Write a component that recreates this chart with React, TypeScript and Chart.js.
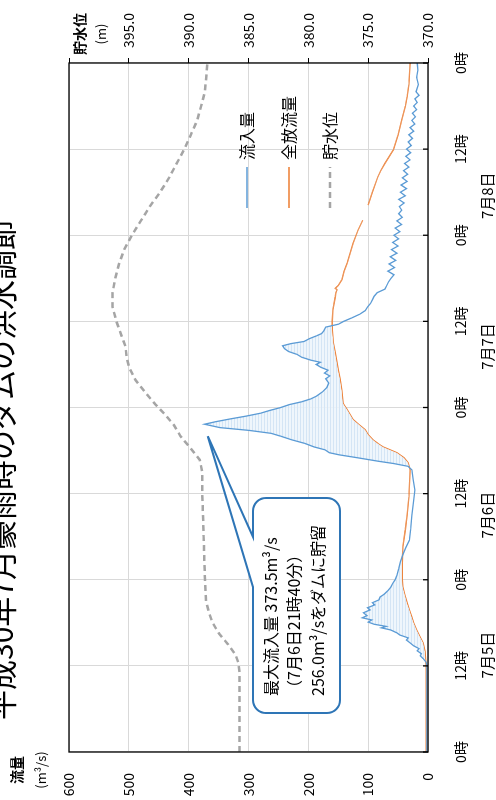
import React, { useEffect, useRef } from 'react';
import { Chart, registerables } from 'chart.js';

Chart.register(...registerables);

const FONT = '"Noto Sans CJK JP", "Noto Sans", sans-serif';

const titleText = '平成30年7月豪雨時のダムの洪水調節';
const flowAxisTitle = ['流量', '(m³/s)'];
const levelAxisTitle = ['貯水位', '(m)'];
const hourTicks = [0, 12, 24, 36, 48, 60, 72, 84, 96];
const hourTickLabels = ['0時', '12時', '0時', '12時', '0時', '12時', '0時', '12時', '0時'];
const dateLabels = ['7月5日', '7月6日', '7月7日', '7月8日'];
const dateLabelHours = [13.5, 33, 56.5, 77.5];
const seriesNames = ['流入量', '全放流量', '貯水位'];
const noteLines = ['最大流入量 373.5m³/s', '（7月6日21時40分）', '256.0m³/sをダムに貯留'];
const notePointHour = 44.0;
const notePointFlow = 368;

const inflowHours = [0, 6, 12, 12.5, 13, 13.4, 13.7, 14.1, 14.4, 14.8, 15.2, 15.6, 15.9, 16.3, 16.6, 17, 17.3, 17.5, 17.8, 18.1, 18.4, 18.7, 19, 19.4, 19.8, 20.1, 20.5, 20.8, 21.2, 21.6, 22, 22.5, 23, 23.5, 24, 24.6, 25.5, 26.5, 27.5, 28.5, 29.5, 31, 33, 35, 36.5, 38, 39.3, 39.8, 40.2, 40.5, 41, 41.4, 41.7, 42.1, 42.5, 43, 43.5, 44, 44.4, 44.8, 45.2, 45.67, 46, 46.4, 46.8, 47.2, 47.6, 48, 48.4, 48.8, 49.2, 49.6, 50.2, 50.8, 51.4, 52, 52.4, 52.8, 53.2, 53.6, 54, 54.3, 54.6, 55, 55.4, 55.8, 56.2, 56.6, 56.9, 57.2, 57.6, 58, 58.3, 58.7, 59.2, 59.6, 60, 60.5, 61, 61.5, 62, 62.5, 63, 63.5, 64, 64.5, 65, 65.5, 66, 66.5, 67, 67.5, 68, 68.5, 69, 69.5, 70, 70.5, 71, 71.5, 72, 72.5, 73, 73.5, 74, 74.5, 75, 75.5, 76, 76.5, 77, 77.5, 78, 78.5, 79, 79.5, 80, 80.5, 81, 81.5, 82, 82.5, 83, 83.5, 84, 84.5, 85, 85.5, 86, 86.5, 87, 87.5, 88, 88.5, 89, 89.5, 90, 90.5, 91, 91.5, 92, 93, 94, 95, 96];
const inflowValues = [2, 2, 2, 3, 8, 13, 11, 18, 15, 24, 30, 36, 33, 47, 52, 62, 78, 70, 90, 100, 94, 110, 102, 108, 97, 101, 89, 93, 82, 80, 73, 67, 62, 59, 55, 52, 49, 46, 42, 37, 31, 29, 27, 24, 22, 25, 27, 33, 58, 82, 118, 148, 165, 172, 190, 206, 228, 246, 262, 298, 348, 373.5, 356, 331, 304, 280, 264, 246, 232, 211, 196, 186, 176, 169, 166, 171, 164, 173, 167, 179, 187, 180, 196, 211, 219, 233, 240, 243, 229, 207, 198, 186, 178, 174, 171, 150, 141, 127, 114, 105, 101, 96, 93, 90, 85, 72, 69, 66, 62, 57, 67, 56, 65, 54, 63, 52, 61, 50, 59, 49, 57, 47, 55, 44, 52, 43, 49, 44, 48, 40, 49, 38, 46, 36, 45, 35, 43, 34, 41, 32, 39, 30, 37, 29, 36, 28, 33, 26, 32, 24, 30, 22, 27, 21, 26, 19, 24, 18, 22, 15, 20, 16, 19, 17, 18];

const outflowHours = [0, 12, 13, 14, 15.2, 16, 17, 18, 18.8, 19.8, 20.8, 22, 23, 24, 26.3, 28.6, 30.9, 33, 35.5, 37, 39.3, 40.3, 41, 41.7, 42.5, 43, 43.5, 44.2, 44.9, 45.6, 46.3, 47, 47.7, 48.6, 50.4, 52, 53.2, 55.6, 57, 58.8, 60, 61.6, 63.4, 64, 64.4, 64.6, 65, 65.8, 67, 68.1, 69.5, 70.9, 72.7, 74.1, 74.6, 76.2, 78, 80.1, 81, 82, 83.9, 86, 88, 90, 91.3, 93, 96];
const outflowValues = [3, 3, 4, 5, 8, 13, 19, 24, 27, 31, 35, 39, 42, 43, 43, 42, 38, 35, 32, 31, 30, 33, 40, 52, 75, 84, 92, 100, 105, 115, 125, 130, 135, 142, 144, 147, 150, 155, 158, 160, 160, 159, 155, 154, 152, 155, 150, 144, 140, 135, 130, 125, 117, 109, null, 100, 93, 84, 79, 72, 58, 50, 44, 38, 35, 32, 30];

const levelHours = [0, 11, 12.5, 13.5, 15, 16.5, 18, 19.5, 21, 24, 30, 36, 39, 40.7, 42.5, 44, 45.5, 47, 48.5, 50, 51.8, 53.5, 55, 56.5, 58, 60, 62, 64, 66, 68, 70, 72, 74, 76, 78, 80, 82, 84, 86, 88, 90, 92, 94, 96];
const levelValues = [385.75, 385.75, 385.86, 386.07, 386.71, 387.46, 388.0, 388.32, 388.54, 388.64, 388.75, 388.86, 388.86, 389.07, 389.93, 390.68, 391.21, 391.96, 392.82, 393.57, 394.43, 394.96, 395.18, 395.28, 395.61, 396.04, 396.36, 396.36, 396.14, 395.82, 395.39, 394.75, 394.0, 393.25, 392.39, 391.64, 391.0, 390.36, 389.82, 389.29, 388.96, 388.64, 388.54, 388.43];

const BLUE = '#5b9bd5';
const ORANGE = '#ed7d31';
const GRAY = '#a5a5a5';
const GRID = '#d9d9d9';
const NOTE_BLUE = '#2e75b6';

const toPoints = (xs: number[], ys: (number | null)[]) => xs.map((x, i) => ({ x, y: ys[i] }));

function makeFillPattern(): CanvasPattern | string {
  const c = document.createElement('canvas');
  c.width = 4;
  c.height = 3;
  const g = c.getContext('2d');
  if (!g) return 'rgba(214,230,245,0.5)';
  g.fillStyle = 'rgba(236,244,251,0.85)';
  g.fillRect(0, 0, 4, 3);
  g.fillStyle = 'rgba(208,227,245,0.85)';
  g.fillRect(0, 0, 4, 1);
  const p = g.createPattern(c, 'repeat');
  return p || 'rgba(214,230,245,0.5)';
}

const decorPlugin = {
  id: 'decor',
  afterDatasetsDraw(chart: any) {
    const { ctx, chartArea: a, scales } = chart;
    ctx.save();
    ctx.strokeStyle = '#000';
    ctx.lineWidth = 1.3;
    ctx.strokeRect(a.left, a.top, a.right - a.left, a.bottom - a.top);
    hourTicks.forEach((h) => {
      const px = scales.x.getPixelForValue(h);
      ctx.beginPath();
      ctx.moveTo(px, a.bottom);
      ctx.lineTo(px, a.bottom - 5);
      ctx.stroke();
    });
    ctx.restore();
  },
  afterDraw(chart: any) {
    const { ctx, scales } = chart;
    ctx.save();
    ctx.fillStyle = '#000';
    ctx.textBaseline = 'middle';
    // date labels
    ctx.font = `15px ${FONT}`;
    ctx.textAlign = 'center';
    dateLabels.forEach((d, i) => {
      ctx.fillText(d, scales.x.getPixelForValue(dateLabelHours[i]), 487);
    });
    // axis titles
    ctx.font = `bold 14px ${FONT}`;
    ctx.fillText(flowAxisTitle[0], 30, 17);
    ctx.fillText(levelAxisTitle[0], 766, 80);
    ctx.font = `13px ${FONT}`;
    ctx.fillText(flowAxisTitle[1], 30, 41);
    ctx.fillText(levelAxisTitle[1], 766, 101);
    // legend
    const rowsY = [247, 289, 330];
    const colors = [BLUE, ORANGE, GRAY];
    ctx.textAlign = 'left';
    ctx.font = `16px ${FONT}`;
    seriesNames.forEach((n, i) => {
      ctx.save();
      ctx.strokeStyle = colors[i];
      ctx.lineWidth = i === 2 ? 2.5 : 1.5;
      if (i === 2) ctx.setLineDash([6, 4]);
      ctx.beginPath();
      ctx.moveTo(592, rowsY[i]);
      ctx.lineTo(633, rowsY[i]);
      ctx.stroke();
      ctx.restore();
      ctx.fillText(n, 640, rowsY[i]);
    });
    // annotation callout
    const bx0 = 87, bx1 = 302, by0 = 253, by1 = 340, r = 13;
    const t0 = 213, t1 = 263;
    const tipX = scales.x.getPixelForValue(notePointHour);
    const tipY = scales.y.getPixelForValue(notePointFlow);
    ctx.beginPath();
    ctx.moveTo(bx0 + r, by0);
    ctx.lineTo(t0, by0);
    ctx.lineTo(tipX, tipY);
    ctx.lineTo(t1, by0);
    ctx.lineTo(bx1 - r, by0);
    ctx.arcTo(bx1, by0, bx1, by0 + r, r);
    ctx.lineTo(bx1, by1 - r);
    ctx.arcTo(bx1, by1, bx1 - r, by1, r);
    ctx.lineTo(bx0 + r, by1);
    ctx.arcTo(bx0, by1, bx0, by1 - r, r);
    ctx.lineTo(bx0, by0 + r);
    ctx.arcTo(bx0, by0, bx0 + r, by0, r);
    ctx.closePath();
    ctx.fillStyle = '#fff';
    ctx.fill();
    ctx.strokeStyle = NOTE_BLUE;
    ctx.lineWidth = 2;
    ctx.stroke();
    ctx.fillStyle = '#000';
    ctx.font = `16px ${FONT}`;
    const lineY = [271, 294, 318];
    noteLines.forEach((t, i) => ctx.fillText(t, 104, lineY[i]));
    ctx.restore();
  },
};

export default function App() {
  const ref = useRef<HTMLCanvasElement>(null);
  useEffect(() => {
    document.body.style.margin = '0';
    Chart.defaults.font.family = FONT;
    const chart = new Chart(ref.current as HTMLCanvasElement, {
      type: 'line',
      data: {
        datasets: [
          {
            label: seriesNames[0],
            data: toPoints(inflowHours, inflowValues),
            borderColor: BLUE,
            borderWidth: 1.3,
            pointRadius: 0,
            yAxisID: 'y',
            fill: { target: 1, above: makeFillPattern(), below: 'rgba(0,0,0,0)' },
          },
          {
            label: seriesNames[1],
            data: toPoints(outflowHours, outflowValues),
            borderColor: ORANGE,
            borderWidth: 1.3,
            pointRadius: 0,
            spanGaps: false,
            yAxisID: 'y',
            fill: false,
          },
          {
            label: seriesNames[2],
            data: toPoints(levelHours, levelValues),
            borderColor: GRAY,
            borderWidth: 2.5,
            borderDash: [6, 4],
            pointRadius: 0,
            yAxisID: 'y2',
            fill: false,
          },
        ],
      } as any,
      options: {
        responsive: false,
        animation: false,
        events: [],
        layout: { padding: { top: 69, left: 0, right: 0, bottom: 0 } },
        plugins: { legend: { display: false }, tooltip: { enabled: false }, title: { display: false } },
        scales: {
          x: {
            type: 'linear',
            min: 0,
            max: 96,
            afterFit: (s: any) => { s.height = 68; },
            afterBuildTicks: (s: any) => { s.ticks = hourTicks.map((v) => ({ value: v })); },
            ticks: {
              stepSize: 12,
              autoSkip: false,
              maxRotation: 0,
              padding: 24,
              color: '#000',
              font: { size: 14 },
              callback: (v: any) => hourTickLabels[hourTicks.indexOf(Number(v))] ?? '',
            },
            grid: { color: GRID, drawTicks: false },
            border: { display: false },
          },
          y: {
            position: 'left',
            min: 0,
            max: 600,
            afterFit: (s: any) => { s.width = 48; },
            ticks: { stepSize: 100, padding: 21, color: '#000', font: { size: 14 } },
            grid: { color: GRID, drawTicks: false },
            border: { display: false },
          },
          y2: {
            position: 'right',
            min: 370,
            max: 400,
            afterFit: (s: any) => { s.width = 63; },
            ticks: {
              stepSize: 5,
              padding: 10,
              color: '#000',
              font: { size: 14 },
              callback: (v: any) => (Number(v) >= 400 ? '' : Number(v).toFixed(1)),
            },
            grid: { drawOnChartArea: false, drawTicks: true, tickLength: 5, color: '#000' },
            border: { display: false },
          },
        },
      } as any,
      plugins: [decorPlugin],
    });
    return () => chart.destroy();
  }, []);

  return (
    <div style={{ position: 'relative', width: 496, height: 800, overflow: 'hidden', background: '#fff' }}>
      <div
        style={{
          position: 'absolute',
          left: 0,
          top: 0,
          width: 800,
          height: 496,
          transformOrigin: '0 0',
          transform: 'translate(0px, 800px) rotate(-90deg)',
        }}
      >
        <canvas ref={ref} width={800} height={496} style={{ position: 'absolute', left: 0, top: 0, width: 800, height: 496 }} />
        <div
          style={{
            position: 'absolute',
            left: 80,
            top: -15,
            fontSize: 30,
            lineHeight: '30px',
            fontFamily: FONT,
            whiteSpace: 'nowrap',
            color: '#000',
          }}
        >
          {titleText}
        </div>
      </div>
    </div>
  );
}
